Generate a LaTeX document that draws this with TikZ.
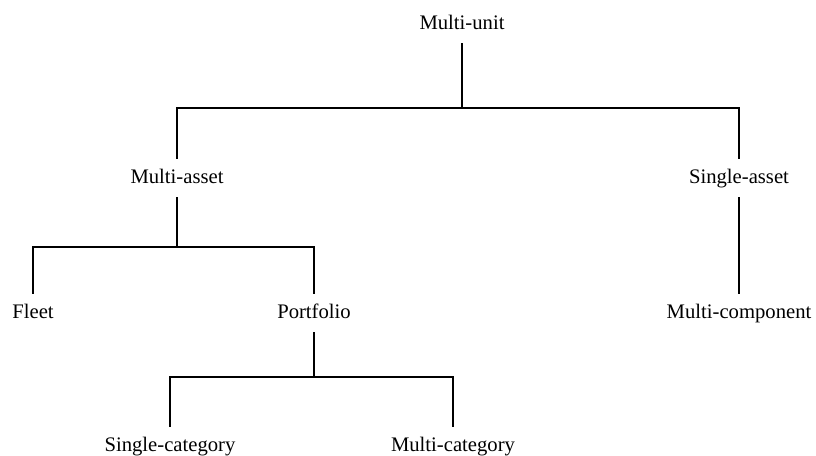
\documentclass[tikz,border=0pt]{standalone}
\usepackage{fontspec}
\setmainfont{Liberation Serif}
\usepackage{tikz}
\usetikzlibrary{positioning}

\begin{document}
\begin{tikzpicture}[x=0.75pt,y=-0.75pt,
  term/.style={inner xsep=2pt,inner ysep=8pt,outer sep=0pt,
    text height=10.5pt,text depth=2.5pt,
    font=\fontsize{15.5}{18}\selectfont},
  branch/.style={line width=1pt}]
\useasboundingbox (0,0) rectangle (816,455);
% levels of the tree
\node[term] (unit) at (462,24) {Multi-unit};
\node[term] (multiasset) at (177,178) {Multi-asset};
\node[term] (singleasset) at (739,178) {Single-asset};
\node[term] (fleet) at (33,313) {Fleet};
\node[term] (portfolio) at (314,313) {Portfolio};
\node[term] (multicomp) at (739,313) {Multi-component};
\node[term] (singlecat) at (170,446) {Single-category};
\node[term] (multicat) at (453,446) {Multi-category};
% junctions
\coordinate (j-unit) at (462,108);
\coordinate (j-asset) at (177,247);
\coordinate (j-port) at (314,377);
\draw[branch] (unit.south) -- (j-unit);
\draw[branch] (multiasset.north) |- (j-unit) -| (singleasset.north);
\draw[branch] (multiasset.south) -- (j-asset);
\draw[branch] (fleet.north) |- (j-asset) -| (portfolio.north);
\draw[branch] (singleasset.south) -- (multicomp.north);
\draw[branch] (portfolio.south) -- (j-port);
\draw[branch] (singlecat.north) |- (j-port) -| (multicat.north);
\end{tikzpicture}
\end{document}
